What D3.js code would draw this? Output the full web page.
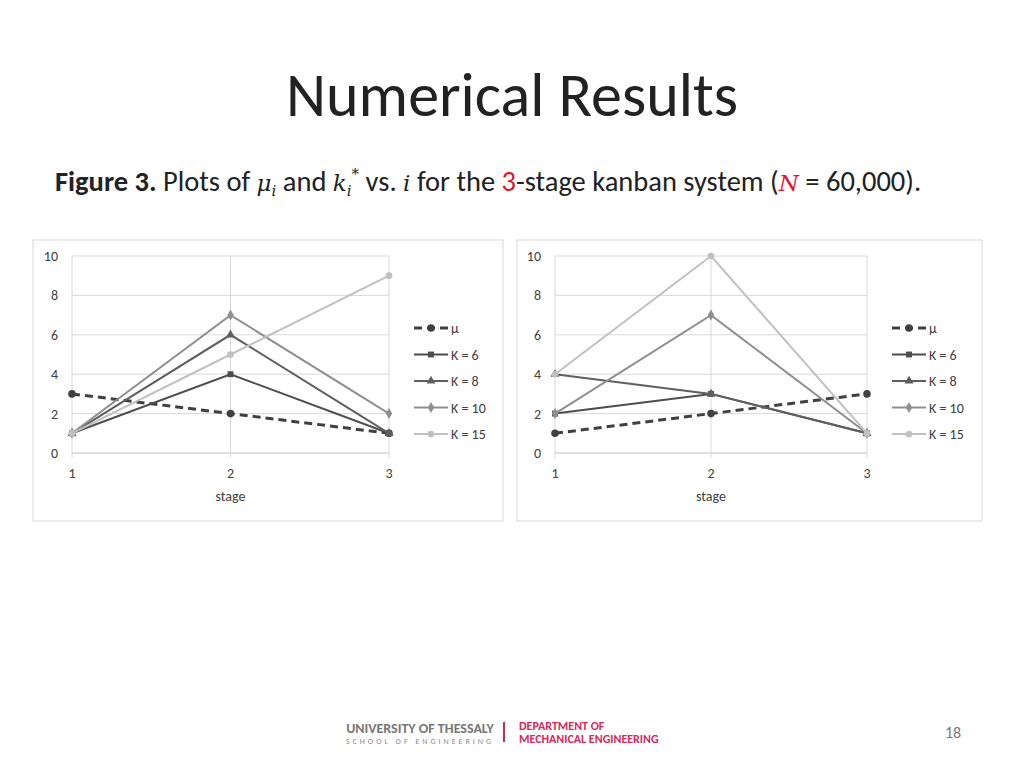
<!DOCTYPE html><html><head><meta charset="utf-8"><script src="https://cdn.jsdelivr.net/npm/d3@7"></script>
<style>body{margin:0;background:#fff;font-family:Calibri,Carlito,"Open Sans",sans-serif}</style></head><body>
<svg id="s" width="1024" height="768"></svg>
<script>
const stages=[1,2,3];
const seriesNames=["μ","K = 6","K = 8","K = 10","K = 15"];
const leftMu=[3,2,1],leftK6=[1,4,1],leftK8=[1,6,1],leftK10=[1,7,2],leftK15=[1,5,9];
const rightMu=[1,2,3],rightK6=[2,3,1],rightK8=[4,3,1],rightK10=[2,7,1],rightK15=[4,10,1];
const yTicks=[0,2,4,6,8,10];
const colors=["#404040","#4d4d4d","#5f5f5f","#8f8f8f","#c0c0c0"];
const shapes=[d3.symbolCircle,d3.symbolSquare,d3.symbolTriangle,d3.symbolDiamond,d3.symbolCircle];
const svg=d3.select("#s");
svg.append("text").attr("x",512).attr("y",116).attr("text-anchor","middle").attr("font-size",62).attr("fill","#222").text("Numerical Results");
const cap=svg.append("text").attr("x",55).attr("y",191).attr("font-size",28.5).attr("fill","#222");
cap.append("tspan").attr("font-weight","bold").text("Figure 3.");
cap.append("tspan").text(" Plots of ");
cap.append("tspan").attr("font-style","italic").attr("font-family","DejaVu Serif").attr("font-size",23).text("μ");
cap.append("tspan").attr("font-style","italic").attr("font-family","DejaVu Serif").attr("font-size",15).attr("dy",5).text("i");
cap.append("tspan").attr("dy",-5).text(" and ");
cap.append("tspan").attr("font-style","italic").attr("font-family","DejaVu Serif").attr("font-size",23).text("k");
cap.append("tspan").attr("font-style","italic").attr("font-family","DejaVu Serif").attr("font-size",15).attr("dy",5).text("i");
cap.append("tspan").attr("font-family","DejaVu Serif").attr("font-size",15).attr("dy",-17).text("*");
cap.append("tspan").attr("dy",12).text(" vs. ");
cap.append("tspan").attr("font-style","italic").attr("font-family","DejaVu Serif").attr("font-size",23).text("i");
cap.append("tspan").text(" for the ");
cap.append("tspan").attr("fill","#e8112d").text("3");
cap.append("tspan").text("-stage kanban system (");
cap.append("tspan").attr("fill","#e8112d").attr("font-style","italic").attr("font-family","DejaVu Serif").attr("font-size",23).text("N");
cap.append("tspan").text(" = 60,000).");
function chart(bx,bw,x0,x1,legX,data){
  const g=svg.append("g");
  g.append("rect").attr("x",bx).attr("y",240).attr("width",bw).attr("height",281).attr("fill","#fff").attr("stroke","#d9d9d9");
  const x=d3.scaleLinear().domain([1,3]).range([x0,x1]);
  const y=d3.scaleLinear().domain([0,10]).range([453,256]);
  yTicks.forEach(t=>{g.append("line").attr("x1",x0).attr("x2",x1).attr("y1",y(t)).attr("y2",y(t)).attr("stroke",t===0?"#bfbfbf":"#d9d9d9");
    g.append("text").attr("x",x0-14).attr("y",y(t)+5).attr("text-anchor","end").attr("font-size",14).attr("fill","#404040").text(t);});
  stages.forEach(s=>{g.append("line").attr("x1",x(s)).attr("x2",x(s)).attr("y1",256).attr("y2",458).attr("stroke","#d9d9d9");
    g.append("text").attr("x",x(s)).attr("y",478).attr("text-anchor","middle").attr("font-size",14).attr("fill","#404040").text(s);});
  g.append("text").attr("x",x(2)).attr("y",501).attr("text-anchor","middle").attr("font-size",14).attr("fill","#404040").text("stage");
  const line=d3.line().x((d,i)=>x(stages[i])).y(d=>y(d));
  data.forEach((vals,k)=>{
    g.append("path").attr("d",line(vals)).attr("fill","none").attr("stroke",colors[k]).attr("stroke-width",k===0?3:2).attr("stroke-dasharray",k===0?"8,5":null);
    vals.forEach((v,i)=>g.append("path").attr("d",d3.symbol(shapes[k],k===0?45:35)()).attr("transform",`translate(${x(stages[i])},${y(v)})`).attr("fill",colors[k]));
    const ly=328+k*26.5;
    g.append("line").attr("x1",legX).attr("x2",legX+34).attr("y1",ly).attr("y2",ly).attr("stroke",colors[k]).attr("stroke-width",k===0?3:2).attr("stroke-dasharray",k===0?"8,5":null);
    g.append("path").attr("d",d3.symbol(shapes[k],k===0?45:35)()).attr("transform",`translate(${legX+17},${ly})`).attr("fill",colors[k]);
    g.append("text").attr("x",legX+37).attr("y",ly+5).attr("font-size",14).attr("fill","#404040").text(seriesNames[k]);
  });
}
chart(33,470,72,389,414,[leftMu,leftK6,leftK8,leftK10,leftK15]);
chart(517,465,555,867,892,[rightMu,rightK6,rightK8,rightK10,rightK15]);
svg.append("text").attr("x",420).attr("y",733).attr("text-anchor","middle").attr("font-size",14).attr("font-weight","bold").attr("fill","#777").text("UNIVERSITY OF THESSALY");
svg.append("text").attr("x",420).attr("y",744).attr("text-anchor","middle").attr("font-size",8).attr("letter-spacing",3).attr("fill","#888").text("SCHOOL OF ENGINEERING");
svg.append("line").attr("x1",504).attr("x2",504).attr("y1",722).attr("y2",742).attr("stroke","#d6285b").attr("stroke-width",2);
svg.append("text").attr("x",519).attr("y",730).attr("font-size",12).attr("font-weight","bold").attr("fill","#d6285b").text("DEPARTMENT OF");
svg.append("text").attr("x",519).attr("y",743).attr("font-size",12).attr("font-weight","bold").attr("fill","#d6285b").text("MECHANICAL ENGINEERING");
svg.append("text").attr("x",953).attr("y",738).attr("text-anchor","middle").attr("font-size",16).attr("fill","#777").text("18");
</script></body></html>
